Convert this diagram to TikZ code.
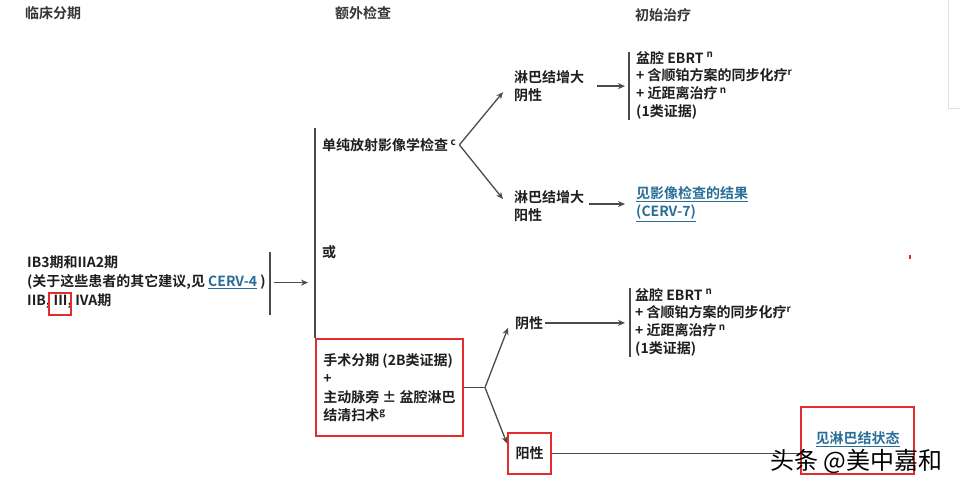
\documentclass[tikz,border=0pt]{standalone}
\usepackage{fontspec}
\setmainfont{Noto Sans CJK SC}[BoldFont={Noto Sans CJK SC Bold}]
\usepackage{xcolor}
\usetikzlibrary{arrows.meta,calc,positioning}
\definecolor{LineGray}{RGB}{75,75,75}
\definecolor{TextGray}{RGB}{30,30,30}
\definecolor{LinkBlue}{RGB}{40,110,150}
\definecolor{MarkRed}{RGB}{225,45,45}
\tikzset{
	txt/.style={anchor=north west, inner sep=0pt, align=left, text=TextGray, font=\bfseries\fontsize{14}{18.5}\selectfont},
	hdr/.style={anchor=north west, inner sep=0pt, text=TextGray!90, font=\bfseries\fontsize{14}{17}\selectfont},
	ln/.style={draw=LineGray, line width=1.3pt},
	arr/.style={ln, -{Stealth[length=7pt,width=6pt]}},
	redbox/.style={draw=MarkRed, line width=2pt}
}
\newcommand{\sups}[1]{\textsuperscript{#1}}
\newcommand{\lnk}[1]{{\color{LinkBlue}\underline{#1}}}

\begin{document}
\begin{tikzpicture}[x=1pt, y=-1pt]
	\useasboundingbox (0,0) rectangle (960,485);
%
	%column heads
	\node[hdr] (hStage) at (25,6) {临床分期};
	\node[hdr] (hExtra) at (335,6) {额外检查};
	\node[hdr] (hInit) at (635,8) {初始治疗};
%
	%clinical stage
	\node[txt, font=\bfseries\fontsize{14}{19}\selectfont] (stage) at (27,256) {IB3期和IIA2期\\(关于这些患者的其它建议,见 \lnk{CERV-4} )\\IIB, III, IVA期};
	\draw[redbox] (49,293) rectangle (71,315);
	\draw[ln] ($(stage.north east)+(4,-4)$) -- ($(stage.south east)+(4,6)$);
	\coordinate (vtop) at (315,128);
	\draw[arr, shorten >=7pt] ($(stage.east)+(8,0)$) -- (vtop |- stage.east);
%
	%additional workup
	\node[txt] (imaging) at (322,138) {单纯放射影像学检查\,\sups{c}};
	\node[txt] (orr) at (322,245) {或};
	\node[txt, redbox, anchor=north west, minimum width=147pt, minimum height=97pt, inner sep=0pt] (surg) at (315,338) {手术分期 (2B类证据)\\+\\主动脉旁 ± 盆腔淋巴\\结清扫术\sups{g}};
	\draw[ln] (vtop) -- (surg.north west);
%
	%upper branch
	\node[txt] (negA) at (514,70) {淋巴结增大\\阴性};
	\node[txt] (posA) at (514,190) {淋巴结增大\\阳性};
	\coordinate (brA) at ($(imaging.east)+(3,0)$);
	\draw[arr] (brA) -- ($(negA.west)+(-11,6)$);
	\draw[arr] (brA) -- ($(posA.west)+(-11,-7)$);
%
	\node[txt, font=\bfseries\fontsize{14}{17.7}\selectfont] (rxA) at (636,51) {盆腔 EBRT \sups{n}\\+ 含顺铂方案的同步化疗\sups{r}\\+ 近距离治疗\,\sups{n}\\(1类证据)};
	\draw[ln] ($(rxA.north west)+(-7,1)$) -- ($(rxA.south west)+(-7,1)$);
	\draw[arr] ($(negA.east)+(13,0)$) -- ($(rxA.west |- negA.east)+(-11,0)$);
	\node[txt] (seeA) at (636,186) {\lnk{见影像检查的结果}\\\lnk{(CERV-7)}};
	\draw[arr] ($(posA.east)+(5,-2)$) -- ($(seeA.west |- posA.east)+(-11,-2)$);
%
	%lower branch
	\node[txt] (negB) at (515,316) {阴性};
	\node[txt, redbox, anchor=center, minimum width=43pt, minimum height=41pt] (posB) at (529.5,453.5) {阳性};
	\coordinate (brB) at ($(surg.east)+(21,0)$);
	\draw[ln] (surg.east) -- (brB);
	\draw[arr] (brB) -- ($(negB.west)+(-7,5)$);
	\draw[arr] (brB) -- ($(posB.west)+(0,-10)$);
%
	\node[txt, font=\bfseries\fontsize{14}{17.7}\selectfont] (rxB) at (635,288) {盆腔 EBRT \sups{n}\\+ 含顺铂方案的同步化疗\sups{r}\\+ 近距离治疗\,\sups{n}\\(1类证据)};
	\draw[ln] ($(rxB.north west)+(-5,0)$) -- ($(rxB.south west)+(-5,1)$);
	\draw[arr] ($(negB.east)+(2,0)$) -- ($(rxB.west |- negB.east)+(-10,0)$);
	\node[txt, redbox, anchor=center, minimum width=113pt, minimum height=67pt, text depth=6pt] (lymph) at (857.5,440.5) {\lnk{见淋巴结状态}};
	\draw[ln] (posB.east) -- (lymph.west |- posB.east);
%
	%page edge and marks
	\draw[gray!25, line width=0.8pt] (948,0) -- (948,108) -- (960,108);
	\fill[MarkRed] (909,255) rectangle (911,259);
	\node[anchor=west, inner sep=0pt, text=black, font=\fontsize{24}{24}\selectfont] (mark) at (770,461) {头条 @美中嘉和};
\end{tikzpicture}
\end{document}
